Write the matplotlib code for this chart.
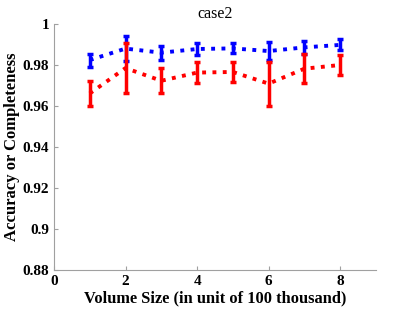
import numpy as np
import matplotlib
matplotlib.use('Agg')
import matplotlib.pyplot as plt

# volume sizes and measured values
sizes = [1, 2, 3, 4, 5, 6, 7, 8]
acc_blue = [0.9824, 0.9880, 0.9860, 0.9878, 0.9881, 0.9868, 0.9886, 0.9898]
err_blue = [0.0032, 0.0062, 0.0035, 0.0027, 0.0024, 0.0046, 0.0031, 0.0027]
acc_red = [0.9661, 0.9785, 0.9723, 0.9763, 0.9766, 0.9709, 0.9782, 0.9800]
err_red = [0.0060, 0.0120, 0.0061, 0.0053, 0.0047, 0.0107, 0.0072, 0.0049]

plt.rcParams['font.family'] = ['Liberation Serif', 'DejaVu Serif']

fig = plt.figure(figsize=(4.15, 3.12), dpi=100)
ax = fig.add_axes([0.130, 0.1346, 0.776, 0.7885])

ax.errorbar(sizes, acc_blue, yerr=err_blue, color='#0000ff', ls=':', lw=2.8,
            elinewidth=2.5, capsize=2.5, capthick=2.5)
ax.errorbar(sizes, acc_red, yerr=err_red, color='#ff0000', ls=':', lw=2.8,
            elinewidth=2.5, capsize=2.5, capthick=2.5)

ax.set_xlim(0, 9)
ax.set_ylim(0.88, 1)
ax.set_xticks([0, 2, 4, 6, 8])
ax.set_yticks([0.88, 0.9, 0.92, 0.94, 0.96, 0.98, 1])
ax.set_yticklabels(['0.88', '0.9', '0.92', '0.94', '0.96', '0.98', '1'])

for s in ['top', 'right']:
    ax.spines[s].set_visible(False)
for s in ['left', 'bottom']:
    ax.spines[s].set_color('#a0a0a0')
ax.tick_params(direction='in', length=3, colors='#a0a0a0', labelcolor='black',
               labelsize=11)
for lab in ax.get_xticklabels() + ax.get_yticklabels():
    lab.set_fontweight('bold')

ax.set_xlabel('Volume Size (in unit of 100 thousand)', fontsize=11.8, fontweight='bold',
              labelpad=2)
ax.set_ylabel('Accuracy or Completeness', fontsize=12, fontweight='bold', labelpad=1.5)
ax.set_title('case2', fontsize=11.5, pad=4)

fig.savefig('out.png', dpi=100)
